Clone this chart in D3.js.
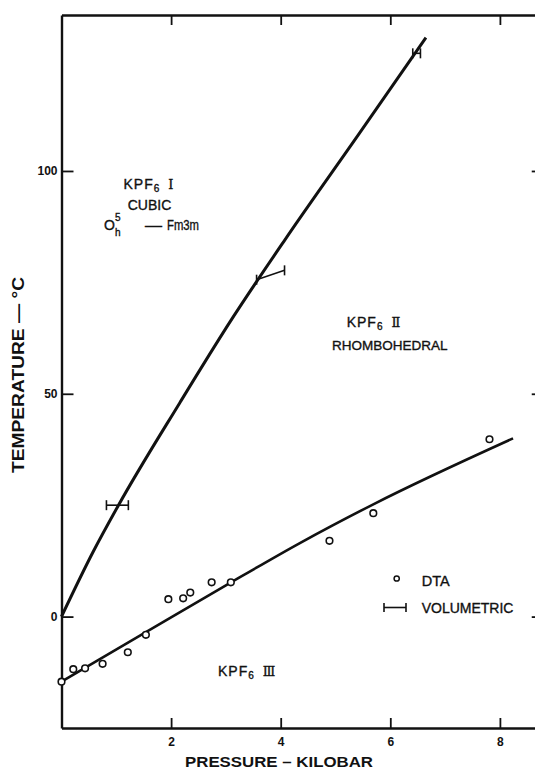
<!DOCTYPE html>
<html>
<head>
<meta charset="utf-8">
<script src="https://cdn.jsdelivr.net/npm/d3@7"></script>
<style>
  html, body { margin: 0; padding: 0; background: #fff; }
  svg { display: block; }
  text { font-family: "Liberation Sans", Arial, sans-serif; fill: #111; }
  .lbl { stroke: #111; stroke-width: 0.35; }
</style>
</head>
<body>
<svg id="chart" width="535" height="769"></svg>
<script>
// ---- data ----
const xTicks = [2, 4, 6, 8];
const yTicks = [0, 50, 100];

// DTA observations (pressure in kbar, temperature in °C)
const dtaPressure = [0, 0.215, 0.43, 0.75, 1.21, 1.54, 1.95, 2.22, 2.35, 2.74, 3.09, 4.89, 5.69, 7.81];
const dtaTemp     = [-14.6, -11.8, -11.6, -10.6, -8.0, -4.1, 3.9, 4.1, 5.4, 7.7, 7.7, 17.0, 23.2, 39.8];

// Volumetric points drawn as bars: [p1, t1, p2, t2]
const volumetricBars = [
  [0.82, 25.0, 1.22, 25.0],
  [3.56, 75.6, 4.07, 77.7],
  [6.41, 126.4, 6.55, 126.4]
];

// Phase boundary I-II
const boundaryIP = [0, 0.58, 1.04, 2.16, 3.11, 4.08, 5.4, 6.65];
const boundaryIT = [0, 14.6, 25.0, 48.0, 66.8, 84.6, 107.8, 129.9];
// Phase boundary II-III
const boundaryIIIP = [0, 1.54, 3.0, 4.35, 5.69, 8.24];
const boundaryIIIT = [-14.6, -3.5, 7.0, 16.5, 25.2, 40.0];

// ---- layout ----
const svg = d3.select("#chart");
const x = d3.scaleLinear().domain([0, 8.8]).range([61.5, 61.5 + 8.8 * 54.8]);
const y = d3.scaleLinear().domain([-25, 135]).range([728, 15]);

const axisStyle = g => {
  g.select(".domain").attr("stroke", "#111").attr("stroke-width", 2.4);
  g.selectAll(".tick line").attr("stroke", "#111").attr("stroke-width", 1.8);
  g.selectAll(".tick text")
    .attr("font-family", "'Liberation Sans', Arial, sans-serif")
    .attr("font-size", 12).attr("font-weight", "bold").attr("fill", "#111");
};

svg.append("g").attr("transform", `translate(0,${y(-25)})`)
  .call(d3.axisBottom(x).tickValues(xTicks).tickFormat(d3.format("d"))
        .tickSizeInner(-10).tickSizeOuter(0).tickPadding(9))
  .call(axisStyle);
svg.append("g").attr("transform", `translate(0,${y(135)})`)
  .call(d3.axisTop(x).tickValues(xTicks).tickFormat("")
        .tickSizeInner(-10).tickSizeOuter(0))
  .call(axisStyle);
svg.append("g").attr("transform", `translate(${x(0)},0)`)
  .call(d3.axisLeft(y).tickValues(yTicks).tickFormat(d3.format("d"))
        .tickSizeInner(-12).tickSizeOuter(0).tickPadding(4))
  .call(axisStyle);
svg.append("g").attr("transform", `translate(${x(8.8)},0)`)
  .call(d3.axisRight(y).tickValues(yTicks).tickFormat("")
        .tickSizeInner(-12).tickSizeOuter(0))
  .call(axisStyle);

// ---- boundaries ----
const line = d3.line().x(d => x(d[0])).y(d => y(d[1])).curve(d3.curveMonotoneX);
svg.append("path")
  .datum(boundaryIP.map((p, i) => [p, boundaryIT[i]]))
  .attr("d", line).attr("fill", "none").attr("stroke", "#111").attr("stroke-width", 3);
svg.append("path")
  .datum(boundaryIIIP.map((p, i) => [p, boundaryIIIT[i]]))
  .attr("d", line).attr("fill", "none").attr("stroke", "#111").attr("stroke-width", 2.6);

// ---- volumetric bars ----
const cap = 5;
const vb = svg.append("g").attr("stroke", "#111").attr("stroke-width", 1.6).attr("fill", "none");
volumetricBars.forEach(b => {
  const x1 = x(b[0]), y1 = y(b[1]), x2 = x(b[2]), y2 = y(b[3]);
  vb.append("line").attr("x1", x1).attr("y1", y1).attr("x2", x2).attr("y2", y2);
  vb.append("line").attr("x1", x1).attr("y1", y1 - cap).attr("x2", x1).attr("y2", y1 + cap);
  vb.append("line").attr("x1", x2).attr("y1", y2 - cap).attr("x2", x2).attr("y2", y2 + cap);
});

// ---- DTA circles ----
svg.append("g").selectAll("circle")
  .data(dtaPressure.map((p, i) => [p, dtaTemp[i]]))
  .join("circle")
  .attr("cx", d => x(d[0])).attr("cy", d => y(d[1])).attr("r", 3.3)
  .attr("fill", "#fff").attr("stroke", "#111").attr("stroke-width", 1.6);

// ---- legend ----
svg.append("circle").attr("cx", 396.7).attr("cy", 578.5).attr("r", 2.6)
  .attr("fill", "#fff").attr("stroke", "#111").attr("stroke-width", 1.5);
svg.append("text").attr("class", "lbl").attr("x", 421.7).attr("y", 585.5)
  .attr("font-size", 14.5).text("DTA");
const lg = svg.append("g").attr("stroke", "#111").attr("stroke-width", 1.6);
lg.append("line").attr("x1", 384).attr("x2", 406).attr("y1", 607.5).attr("y2", 607.5);
lg.append("line").attr("x1", 384).attr("x2", 384).attr("y1", 603).attr("y2", 612);
lg.append("line").attr("x1", 406).attr("x2", 406).attr("y1", 603).attr("y2", 612);
svg.append("text").attr("class", "lbl").attr("x", 421.7).attr("y", 612.5)
  .attr("font-size", 14).text("VOLUMETRIC");

// ---- phase labels ----
function phaseLabel(cx, by, numeral, anchor) {
  const t = svg.append("text").attr("class", "lbl").attr("x", cx).attr("y", by)
    .attr("font-size", 14).attr("text-anchor", anchor).attr("letter-spacing", 1);
  t.append("tspan").text("KPF");
  t.append("tspan").attr("font-size", 10).attr("dy", 3).text("6");
  t.append("tspan").attr("dy", -3).text("\u2002");
  t.append("tspan").attr("font-family", "'DejaVu Serif', serif").attr("font-size", 13).text(numeral);
  return t;
}
phaseLabel(149, 189, "\u2160", "middle");
svg.append("text").attr("class", "lbl").attr("x", 149.5).attr("y", 210).attr("font-size", 14)
  .attr("text-anchor", "middle").text("CUBIC");
const oh = svg.append("text").attr("class", "lbl").attr("x", 104).attr("y", 230).attr("font-size", 14);
oh.append("tspan").text("O");
oh.append("tspan").attr("x", 115).attr("y", 221).attr("font-size", 10).text("5");
oh.append("tspan").attr("x", 115).attr("y", 236).attr("font-size", 10).text("h");
oh.append("tspan").attr("x", 145).attr("y", 230).attr("textLength", 17)
  .attr("lengthAdjust", "spacingAndGlyphs").text("\u2014");
oh.append("tspan").attr("x", 167).attr("y", 230).attr("textLength", 32)
  .attr("lengthAdjust", "spacingAndGlyphs").text("Fm3m");

phaseLabel(346.7, 327, "\u2161", "start");
svg.append("text").attr("class", "lbl").attr("x", 332).attr("y", 350).attr("font-size", 13.5)
  .text("RHOMBOHEDRAL");
phaseLabel(218, 676, "\u2162", "start");

// ---- axis titles ----
svg.append("text")
  .attr("transform", "translate(24,375) rotate(-90)")
  .attr("text-anchor", "middle").attr("font-size", 16).attr("font-weight", "bold")
  .attr("textLength", 196).attr("lengthAdjust", "spacingAndGlyphs")
  .text("TEMPERATURE \u2014  \u00B0C");
svg.append("text")
  .attr("x", 279).attr("y", 767)
  .attr("text-anchor", "middle").attr("font-size", 15.5).attr("font-weight", "bold")
  .attr("textLength", 188).attr("lengthAdjust", "spacingAndGlyphs")
  .text("PRESSURE \u2013 KILOBAR");
</script>
</body>
</html>
